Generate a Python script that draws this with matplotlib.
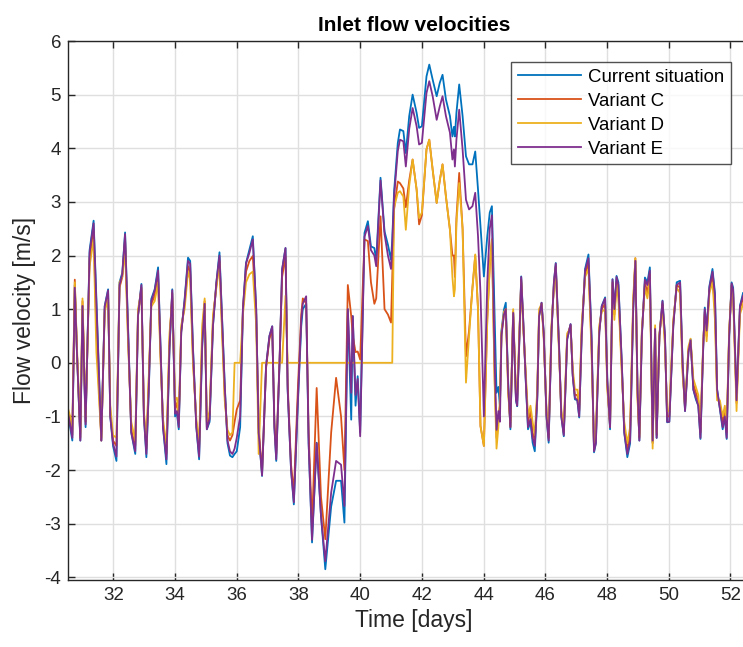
import matplotlib
matplotlib.use("Agg")
import matplotlib.pyplot as plt

plt.rcParams['font.family'] = ['Liberation Sans', 'DejaVu Sans']
plt.rcParams['axes.unicode_minus'] = False

days = [
    30.53, 30.6, 30.67, 30.75, 30.82, 30.93, 31.0, 31.1, 31.23, 31.36, 31.45, 31.61, 31.72, 31.83, 31.9, 31.99,
    32.1, 32.2, 32.29, 32.38, 32.47, 32.58, 32.71, 32.8, 32.91, 32.99, 33.07, 33.15, 33.23, 33.34, 33.45, 33.52,
    33.61, 33.72, 33.82, 33.91, 34.0, 34.06, 34.12, 34.2, 34.31, 34.42, 34.49, 34.58, 34.69, 34.78, 34.88, 34.96,
    35.03, 35.12, 35.23, 35.34, 35.44, 35.52, 35.61, 35.7, 35.78, 35.86, 35.93,
    36.0, 36.11, 36.2, 36.3, 36.41, 36.52, 36.63, 36.71, 36.82, 36.95, 37.06, 37.15, 37.22, 37.28, 37.39, 37.47,
    37.58, 37.65, 37.76, 37.85, 37.98, 38.09, 38.14, 38.25, 38.33, 38.44, 38.59, 38.73, 38.87, 39.06, 39.22, 39.38,
    39.49, 39.6, 39.71, 39.76, 39.85, 39.92, 40.0, 40.14, 40.25, 40.35, 40.46, 40.52, 40.66, 40.79, 40.9, 41.0,
    41.04, 41.1, 41.22, 41.29,
    41.4, 41.48, 41.59, 41.7, 41.83, 41.91, 42.0, 42.15, 42.24, 42.35, 42.48, 42.58, 42.67, 42.78, 42.91, 42.99,
    43.04, 43.07, 43.12, 43.21, 43.32, 43.43, 43.53, 43.64, 43.73, 43.82, 43.9, 44.01, 44.12, 44.2, 44.27,
    44.36, 44.42, 44.48, 44.53, 44.58, 44.66, 44.72, 44.8, 44.87, 44.96, 45.05, 45.09, 45.15, 45.22, 45.28, 45.37,
    45.44, 45.52, 45.59, 45.66, 45.74, 45.8, 45.88, 45.95, 46.04, 46.11, 46.2, 46.28, 46.34, 46.45, 46.52, 46.6,
    46.71, 46.82,
    46.89, 46.96, 47.04, 47.1, 47.18, 47.29, 47.4, 47.5, 47.58, 47.64, 47.75, 47.83, 47.94, 48.01, 48.1, 48.18,
    48.24, 48.31, 48.37, 48.48, 48.56, 48.66, 48.75, 48.85, 48.92, 48.99, 49.05, 49.13, 49.23, 49.31, 49.39, 49.48,
    49.56, 49.61, 49.7, 49.8, 49.88, 49.95, 50.02, 50.15, 50.26, 50.37, 50.45, 50.53, 50.64, 50.71, 50.8, 50.88,
    50.96, 51.03, 51.12, 51.17, 51.23, 51.32, 51.42, 51.5, 51.57, 51.66, 51.75, 51.82, 51.88, 51.96, 52.04, 52.09,
    52.2, 52.31, 52.41,
]

current = [
    -0.95, -1.2, -1.45, 1.45, 0.2, -1.45, 1.06, -1.2, 2.1, 2.65, 1.2, -1.45, 1.06, 1.37, -1.0, -1.55,
    -1.83, 1.5, 1.68, 2.43, 0.8, -1.3, -1.7, 0.88, 1.47, -1.0, -1.76, -0.5, 1.19, 1.37, 1.78, 0.5,
    -1.2, -1.89, 0.25, 1.37, -1.0, -0.93, -1.24, 0.57, 1.19, 1.96, 1.9, 0.3, -1.2, -1.8, 0.3, 1.1,
    -1.24, -1.1, 0.7, 1.5, 2.06, 0.9, -0.4, -1.5, -1.73, -1.76, -1.7,
    -1.65, -1.2, 1.0, 1.86, 2.11, 2.36, 1.0, -1.3, -2.11, -0.06, 0.5, 0.68, -1.2, -1.83, 0.06, 1.74,
    2.14, -0.5, -2.0, -2.64, -0.76, 0.68, 1.0, 1.1, -1.5, -3.35, -1.49, -2.85, -3.85, -2.68, -2.2, -2.2,
    -2.98, 1.0, -1.06, 0.87, -0.8, -0.25, -1.3, 2.42, 2.64, 2.17, 2.14, 1.9, 3.45, 2.45, 2.2, 1.92,
    2.3, 3.2, 4.1, 4.35,
    4.32, 3.91, 4.6, 5.0, 4.66, 4.38, 4.41, 5.34, 5.56, 5.28, 4.97, 5.22, 5.37, 4.91, 4.6, 4.22,
    4.4, 4.22, 4.66, 5.19, 4.6, 3.85, 3.7, 3.7, 3.94, 3.23, 2.55, 1.61, 2.36, 2.8, 2.92,
    0.87, -0.56, -0.45, -0.81, 0.6, 0.99, 1.12, -0.4, -1.24, 0.93, -0.7, -0.81, 0.25, 1.61, 0.87, -0.37,
    -1.24, -1.1, -1.49, -1.65, -0.68, 0.87, 1.12, 0.56, -1.0, -1.49, 0.56, 1.5, 1.86, 0.25, -1.0, -1.37,
    0.44, 0.72,
    -0.24, -0.68, -0.7, -1.02, 0.5, 1.75, 2.02, 0.5, -1.67, -1.5, 0.57, 1.06, 1.22, -0.3, -1.24, 1.56,
    1.0, 1.62, 1.5, 0.0, -1.3, -1.76, -1.5, 1.0, 1.9, -0.5, -1.45, 0.5, 1.59, 1.5, 1.78, -1.48,
    0.63, -1.4, 0.5, 1.16, 0.5, -1.11, -1.1, 0.7, 1.5, 1.53, 0.0, -0.9, 0.2, 0.44, -0.5, -0.68,
    -0.8, -1.42, 0.3, 1.03, 0.6, 1.43, 1.75, 1.3, -0.5, -0.86, -1.24, -1.0, -1.42, 0.5, 1.5, 1.4,
    -0.68, 1.06, 1.3,
]

variant_c = [
    -0.9, -1.1, -1.35, 1.55, 0.2, -1.4, 1.15, -1.1, 1.95, 2.45, 0.6, -1.45, 1.0, 1.3, -0.95, -1.45,
    -1.55, 1.4, 1.6, 2.3, 0.6, -1.25, -1.55, 0.9, 1.4, -0.95, -1.6, -0.3, 1.1, 1.25, 1.6, 0.3,
    -1.15, -1.7, 0.4, 1.3, -0.85, -0.75, -1.1, 0.6, 1.1, 1.8, 1.7, 0.1, -1.15, -1.6, 0.5, 1.15,
    -1.2, -0.95, 0.8, 1.45, 1.9, 0.7, -0.6, -1.35, -1.45, -1.35, -1.1,
    -0.87, -0.7, 1.0, 1.7, 1.9, 1.99, 0.9, -1.2, -2.05, -0.1, 0.45, 0.62, -1.1, -1.7, 0.1, 1.6,
    1.99, -0.4, -1.9, -2.42, -0.5, 0.9, 1.2, 1.11, -1.3, -3.04, -0.47, -2.5, -3.29, -1.3, -0.28, -1.0,
    -2.0, 1.45, 0.87, 0.5, 0.2, 0.21, 0.06, 2.3, 2.27, 1.5, 1.1, 1.2, 2.73, 1.0, 0.9, 0.75,
    1.6, 2.86, 3.38, 3.35,
    3.25, 2.9, 3.4, 3.79, 3.23, 2.58, 2.75, 3.98, 4.16, 3.6, 2.98, 3.4, 3.7, 3.1, 2.48, 2.0,
    2.0, 1.6, 2.7, 3.54, 2.5, 0.12, 0.6, 1.4, 2.0, 1.0, -1.18, -1.55, 0.8, 1.8, 2.3,
    -0.3, -1.4, -1.0, -0.8, 0.55, 0.9, 1.0, -0.5, -1.2, 0.95, -0.65, -0.7, 0.3, 1.55, 0.8, -0.3,
    -1.1, -0.9, -1.3, -1.45, -0.6, 0.9, 1.1, 0.5, -0.95, -1.4, 0.6, 1.45, 1.8, 0.2, -0.95, -1.3,
    0.5, 0.7,
    -0.2, -0.6, -0.6, -0.9, 0.6, 1.65, 1.85, 0.3, -1.6, -1.4, 0.6, 1.0, 1.1, -0.4, -1.2, 1.5,
    0.9, 1.5, 1.3, -0.1, -1.2, -1.6, -1.3, 1.1, 1.95, -0.6, -1.4, 0.55, 1.5, 1.3, 1.65, -1.5,
    0.65, -1.35, 0.5, 1.1, 0.4, -1.0, -1.0, 0.75, 1.45, 1.4, -0.1, -0.85, 0.25, 0.4, -0.4, -0.55,
    -0.7, -1.3, 0.35, 0.95, 0.5, 1.35, 1.6, 1.0, -0.6, -0.8, -1.1, -0.9, -1.3, 0.55, 1.45, 1.3,
    -0.75, 1.0, 1.2,
]

variant_d = [
    -0.85, -1.0, -1.25, 1.5, 0.3, -1.3, 1.2, -1.0, 1.8, 2.3, 0.2, -1.4, 0.95, 1.2, -0.8, -1.35,
    -1.4, 1.5, 1.6, 2.1, 0.5, -1.1, -1.45, 1.0, 1.35, -0.9, -1.5, -0.2, 1.05, 1.15, 1.5, 0.2,
    -1.05, -1.55, 0.55, 1.2, -0.7, -0.65, -1.0, 0.7, 1.0, 1.7, 1.55, 0.0, -1.05, -1.5, 0.7, 1.2,
    -1.1, -0.9, 0.9, 1.4, 1.85, 0.6, -0.7, -1.25, -1.35, -1.3, 0.0,
    0.0, 0.0, 0.9, 1.5, 1.65, 1.7, 0.7, -1.7, 0.0, 0.0, 0.0, 0.0, 0.0, 0.0, 0.0, 0.0,
    1.25, 0.0, 0.0, 0.0, 0.0, 0.0, 0.0, 0.0, 0.0, 0.0, 0.0, 0.0, 0.0, 0.0, 0.0, 0.0,
    0.0, 0.0, 0.0, 0.0, 0.0, 0.0, 0.0, 0.0, 0.0, 0.0, 0.0, 0.0, 0.0, 0.0, 0.0, 0.0,
    0.0, 2.9, 3.17, 3.2,
    3.1, 2.48, 3.3, 3.79, 3.23, 2.7, 2.8, 3.98, 4.16, 3.6, 2.98, 3.4, 3.7, 3.1, 2.48, 1.6,
    1.24, 1.37, 2.6, 3.35, 2.5, -0.37, 0.5, 1.4, 2.02, 1.0, -1.18, -1.55, 0.8, 1.8, 2.3,
    -0.4, -1.6, -1.2, -0.7, 0.55, 0.95, 1.0, -0.6, -1.1, 1.0, -0.6, -0.6, 0.4, 1.5, 0.7, -0.2,
    -1.0, -0.8, -1.1, -1.35, -0.5, 1.0, 1.1, 0.45, -0.9, -1.3, 0.7, 1.4, 1.75, 0.1, -0.9, -1.2,
    0.55, 0.65,
    -0.1, -0.5, -0.5, -0.8, 0.7, 1.6, 1.75, 0.2, -1.55, -1.3, 0.7, 0.95, 1.0, -0.5, -1.1, 1.4,
    0.8, 1.45, 1.2, -0.2, -1.1, -1.5, -1.2, 1.2, 1.95, -0.7, -1.35, 0.6, 1.4, 1.2, 1.55, -1.6,
    0.7, -1.3, 0.55, 1.05, 0.3, -0.9, -0.9, 0.8, 1.4, 1.3, -0.2, -0.8, 0.3, 0.45, -0.3, -0.45,
    -0.6, -1.2, 0.4, 0.9, 0.4, 1.3, 1.5, 0.8, -0.7, -0.7, -1.0, -0.8, -1.2, 0.6, 1.4, 1.2,
    -0.9, 0.9, 1.1,
]

variant_e = [
    -0.95, -1.15, -1.4, 1.4, 0.2, -1.45, 1.06, -1.15, 2.05, 2.6, 1.1, -1.45, 1.05, 1.35, -1.0, -1.5,
    -1.75, 1.45, 1.65, 2.4, 0.75, -1.3, -1.65, 0.88, 1.45, -1.0, -1.7, -0.45, 1.15, 1.35, 1.72, 0.45,
    -1.2, -1.8, 0.3, 1.35, -0.95, -0.9, -1.2, 0.57, 1.15, 1.9, 1.85, 0.25, -1.2, -1.75, 0.35, 1.1,
    -1.24, -1.05, 0.7, 1.5, 2.0, 0.85, -0.45, -1.45, -1.65, -1.7, -1.6,
    -1.4, -1.0, 1.0, 1.85, 2.05, 2.3, 1.0, -1.3, -2.1, -0.06, 0.5, 0.68, -1.2, -1.8, 0.06, 1.74,
    2.14, -0.5, -2.0, -2.6, -0.7, 0.8, 1.1, 1.24, -1.5, -3.3, -1.5, -2.85, -3.7, -2.42, -1.83, -1.9,
    -2.67, 1.0, -0.56, 0.87, -0.6, -0.3, -1.37, 2.35, 2.55, 2.1, 2.0, 1.8, 3.4, 2.4, 2.0, 1.75,
    2.2, 3.1, 3.95, 4.16,
    4.13, 3.66, 4.36, 4.75, 4.41, 4.07, 4.1, 5.03, 5.25, 4.97, 4.53, 4.78, 4.97, 4.6, 4.29, 3.79,
    3.98, 3.66, 4.16, 4.72, 3.98, 3.04, 2.86, 2.92, 3.17, 2.36, 1.3, -1.0, 1.5, 2.5, 2.75,
    0.0, -1.25, -0.9, -1.1, 0.5, 0.9, 1.0, -0.45, -1.2, 0.93, -0.7, -0.8, 0.25, 1.6, 0.85, -0.35,
    -1.2, -1.05, -1.4, -1.55, -0.65, 0.87, 1.12, 0.55, -1.0, -1.45, 0.56, 1.5, 1.85, 0.25, -1.0, -1.35,
    0.44, 0.72,
    -0.24, -0.65, -0.7, -1.0, 0.5, 1.72, 1.95, 0.45, -1.65, -1.5, 0.57, 1.05, 1.2, -0.35, -1.2, 1.55,
    1.0, 1.6, 1.45, 0.0, -1.3, -1.7, -1.45, 1.0, 1.9, -0.5, -1.45, 0.5, 1.55, 1.45, 1.72, -1.45,
    0.63, -1.4, 0.5, 1.15, 0.5, -1.1, -1.1, 0.7, 1.45, 1.5, 0.0, -0.9, 0.2, 0.42, -0.5, -0.65,
    -0.8, -1.4, 0.3, 1.0, 0.6, 1.4, 1.7, 1.25, -0.5, -0.85, -1.2, -1.0, -1.4, 0.5, 1.48, 1.35,
    -0.7, 1.05, 1.25,
]

series_names = ["Current situation", "Variant C", "Variant D", "Variant E"]
colors = ["#0072BD", "#D95319", "#EDB120", "#7E2F8E"]
x_ticks = [32, 34, 36, 38, 40, 42, 44, 46, 48, 50, 52]
y_ticks = [-4, -3, -2, -1, 0, 1, 2, 3, 4, 5, 6]

fig = plt.figure(figsize=(7.43, 6.47), dpi=100)
# axes runs a little past the right edge of the picture (cropped like the reference)
ax = fig.add_axes([68 / 743, 1 - 580 / 647, 692 / 743, (580 - 41) / 647])

for vals, name, col in zip([current, variant_c, variant_d, variant_e], series_names, colors):
    ax.plot(days, vals, color=col, lw=1.3, label=name)

ax.set_xlim(30.53, 52.96)
ax.set_ylim(-4.05, 6)
ax.set_xticks(x_ticks)
ax.set_yticks(y_ticks)
ax.grid(True, color="#DFDFDF", lw=1.0)
ax.set_axisbelow(True)
ax.tick_params(direction="in", length=5, width=1, colors="#262626", labelsize=13.5,
               top=True, right=False, pad=5)
for s in ["left", "bottom", "top"]:
    ax.spines[s].set_color("#262626")
    ax.spines[s].set_linewidth(1.0)
ax.spines["right"].set_visible(False)

ax.set_xlabel("Time [days]", fontsize=16.5, color="#262626", labelpad=4)
ax.set_ylabel("Flow velocity [m/s]", fontsize=16.5, color="#262626", labelpad=6)
ax.set_title("Inlet flow velocities", fontsize=15, fontweight="bold", color="#000000", pad=7)

leg = ax.legend(loc="upper right", bbox_to_anchor=(663 / 692, 0.961), borderaxespad=0,
                fontsize=13.4, frameon=True, fancybox=False, edgecolor="#262626",
                handlelength=3.4, handletextpad=0.38, labelspacing=0.38, borderpad=0.35)
leg.get_frame().set_linewidth(1.0)
for t in leg.get_texts():
    t.set_color("#000000")

fig.savefig("out.png", dpi=100)
